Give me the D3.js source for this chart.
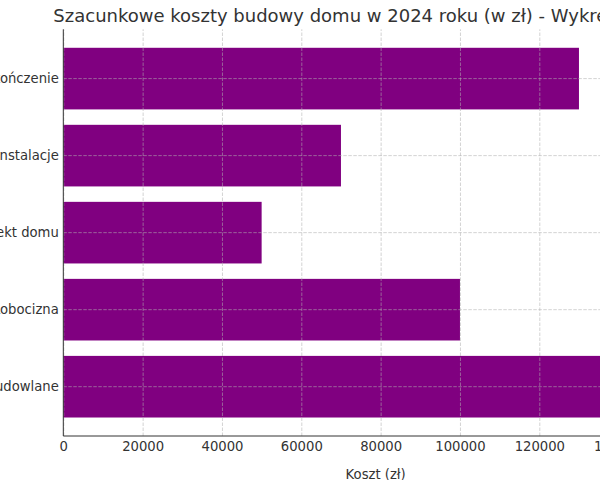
<!DOCTYPE html>
<html>
<head>
<meta charset="utf-8">
<script src="https://d3js.org/d3.v7.min.js"></script>
<style>
  body { margin: 0; background: #fff; }
  text { font-family: 'DejaVu Sans', sans-serif; fill: #333; }
  .tick text { font-size: 13.2px; }
  .grid line { stroke: #b0b0b0; stroke-dasharray: 3.5,1.5; stroke-opacity: 0.7; stroke-width: 0.8; }
  .axis-label { font-size: 13.2px; }
  .title { font-size: 18px; }
</style>
</head>
<body>
<svg width="600" height="480"></svg>
<script>
// categories listed top to bottom as in the chart
const categories = ['Wykończenie', 'Instalacje', 'Projekt domu', 'Robocizna', 'Materiały budowlane'];
const costs = [130000, 70000, 50000, 100000, 150000];
const xTicks = [0, 20000, 40000, 60000, 80000, 100000, 120000, 140000];
const chartTitle = 'Szacunkowe koszty budowy domu w 2024 roku (w zł) - Wykres słupkowy';

function whenLoaded(){

    const svg = d3.select('svg');
    const width = +svg.attr('width');
    const height = +svg.attr('height');

    const data = categories.map((c, i) => ({ category: c, cost: costs[i] }));

    const render = data => {
        const xValue = d => d.cost;
        const yValue = d => d.category;
        // plot area runs past the right edge of the picture
        const margin = {top: 29.3, left: 63.3, bottom: 44};
        const innerHeight = height - margin.top - margin.bottom;

        const xMax = d3.max(data, xValue) * 1.05;
        const unit = (539.3 - margin.left) / 120000;
        const innerWidth = xMax * unit;

        const xScale = d3.scaleLinear()
        .domain([0, xMax])
        .range([0, innerWidth]);

        const yScale = d3.scaleBand()
        .domain(data.map(yValue))
        .range([0, innerHeight])
        .paddingInner(0.2)
        .paddingOuter(0.24);

        const g = svg.append('g')
        .attr('transform', `translate(${margin.left},${margin.top})`);

        g.selectAll('rect').data(data)
        .enter().append('rect')
        .attr('x', 0)
        .attr('y', d => yScale(yValue(d)))
        .attr('width', d => xScale(xValue(d)))
        .attr('height', yScale.bandwidth())
        .attr('fill', '#800080');

        // dashed grid drawn above bars
        const xGrid = g.append('g')
        .attr('class', 'grid')
        .attr('transform', `translate(0,${innerHeight})`)
        .call(d3.axisBottom(xScale).tickValues(xTicks).tickSize(-innerHeight).tickFormat(''));
        xGrid.select('.domain').remove();

        const yGrid = g.append('g')
        .attr('class', 'grid')
        .call(d3.axisLeft(yScale).tickSize(-innerWidth).tickFormat(''));
        yGrid.select('.domain').remove();

        const xAxisG = g.append('g')
        .attr('transform', `translate(0,${innerHeight})`)
        .call(d3.axisBottom(xScale).tickValues(xTicks).tickFormat(d3.format('d')).tickSize(0).tickPadding(6));
        xAxisG.select('.domain').remove();
        xAxisG.selectAll('text').attr('fill', '#333');

        const yAxisG = g.append('g')
        .call(d3.axisLeft(yScale).tickSize(0).tickPadding(4.5));
        yAxisG.select('.domain').remove();
        yAxisG.selectAll('text').attr('fill', '#333').attr('dy', '0.35em');

        // left and bottom spines only
        g.append('line')
        .attr('x1', 0).attr('x2', 0)
        .attr('y1', 0).attr('y2', innerHeight)
        .attr('stroke', '#333').attr('stroke-width', 1);
        g.append('line')
        .attr('x1', 0).attr('x2', innerWidth)
        .attr('y1', innerHeight).attr('y2', innerHeight)
        .attr('stroke', '#333').attr('stroke-width', 1);

        g.append('text')
        .attr('class', 'axis-label')
        .attr('x', innerWidth / 2)
        .attr('y', innerHeight + 43)
        .style('text-anchor', 'middle')
        .text('Koszt (zł)');

        svg.append('text')
        .attr('class', 'title')
        .attr('x', margin.left + innerWidth / 2 + 4)
        .attr('y', 22)
        .style('text-anchor', 'middle')
        .text(chartTitle);
    };

    render(data);
}

window.onload = whenLoaded;
</script>
</body>
</html>
